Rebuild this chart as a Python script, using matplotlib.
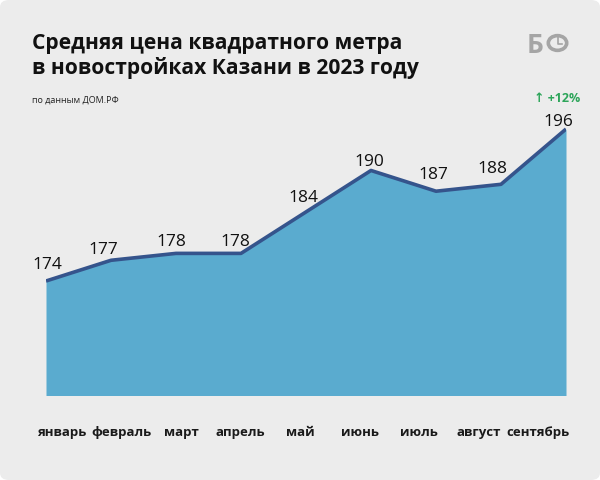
import matplotlib
matplotlib.use("Agg")
import matplotlib.pyplot as plt
import numpy as np
from matplotlib.patches import FancyBboxPatch, Circle
from matplotlib.lines import Line2D

# ---- data ----
months = ['январь', 'февраль', 'март', 'апрель', 'май', 'июнь', 'июль', 'август', 'сентябрь']
prices = [174, 177, 178, 178, 184, 190, 187, 188, 196]
title_lines = ['Средняя цена квадратного метра', 'в новостройках Казани в 2023 году']
source = 'по данным ДОМ.РФ'
change_label = '↑ +12%'

# ---- style / layout ----
label_dx = [1, -8, -5, -6, -3, -2, -3, -9, -8]     # pixel offsets of value labels
label_dy = [12, 6, 7, 7, 10, 4, 12, 11, 3]

W, H = 600, 480
plt.rcParams['font.family'] = ['Open Sans', 'DejaVu Sans']

fig = plt.figure(figsize=(W / 100, H / 100), dpi=100, facecolor='white')
bg = FancyBboxPatch((0, 0), 1, 1, boxstyle='round,pad=0,rounding_size=0.015',
                    transform=fig.transFigure, facecolor='#ececec', edgecolor='none', zorder=-10)
fig.patches.append(bg)

def fx(px):
    return px / W

def fy(py):
    return 1 - py / H

ymin, ymax = 157.5, 200
ax = fig.add_axes([fx(46), fy(395), fx(566) - fx(46), (395 - 101.4) / H])
ax.set_facecolor('none')
x = np.arange(len(prices))
ax.fill_between(x, prices, ymin - 10, color='#5aabcf', lw=0, zorder=1)
ax.plot(x, prices, color='#35548c', lw=2.6, solid_joinstyle='round', solid_capstyle='butt', zorder=2)
ax.set_xlim(0, len(prices) - 1)
ax.set_ylim(ymin, ymax)
for s in ax.spines.values():
    s.set_visible(False)
ax.set_yticks([])

for i, v in enumerate(prices):
    ax.annotate(str(v), (x[i], v), xytext=(label_dx[i], label_dy[i]), textcoords='offset pixels',
                ha='center', va='baseline', fontsize=12.5, color='#111111', zorder=3)

tick_pos = np.linspace(0.246, 7.57, len(months))
ax.set_xticks(tick_pos, months)
ax.tick_params(axis='x', length=0, pad=22, labelsize=9.5, labelcolor='#1a1a1a')
for t in ax.get_xticklabels():
    t.set_fontweight('bold')

fig.text(fx(32), fy(49), title_lines[0], fontsize=15.1, fontweight='bold', color='#111111', va='baseline')
fig.text(fx(32), fy(74), title_lines[1], fontsize=15.1, fontweight='bold', color='#111111', va='baseline')
fig.text(fx(32), fy(103), source, fontsize=6.5, color='#222222', va='baseline')
fig.text(fx(580), fy(98), change_label, fontsize=9, fontweight='bold', color='#2da55a', ha='right', va='center')

# logo
fig.text(fx(535.5), fy(53), 'Б', fontsize=19, fontweight='bold', color='#a5a5a5', ha='center', va='baseline')
circ = Circle((fx(557.5), fy(43)), 9.2 / W, transform=fig.transFigure, fill=False, edgecolor='#a5a5a5', lw=2.6)
fig.patches.append(circ)
fig.lines.append(Line2D([fx(557.5), fx(557.5), fx(562)], [fy(37), fy(44), fy(44)], transform=fig.transFigure,
                        color='#a5a5a5', lw=1.2))

fig.savefig('out.png', dpi=100, facecolor=fig.get_facecolor())
